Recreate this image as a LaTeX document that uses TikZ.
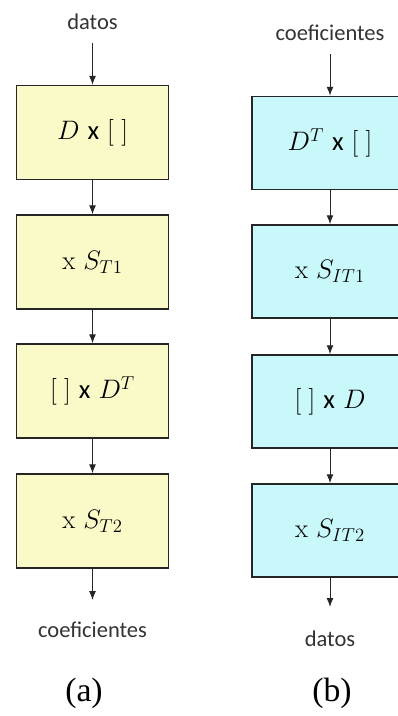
\RequirePackage{fix-cm}
\documentclass[tikz,border=0pt]{standalone}
\usepackage{fontspec}
\newfontfamily\lblfont{Carlito}
\newfontfamily\capfont{Liberation Serif}
\usetikzlibrary{arrows.meta}
\definecolor{boxyellow}{RGB}{250,250,200}
\definecolor{boxcyan}{RGB}{200,248,250}
\tikzset{
  opbox/.style={draw=black!85, line width=1pt, minimum width=3.8cm, minimum height=2.35cm,
    font=\fontsize{19}{22}\selectfont},
  ybox/.style={opbox, fill=boxyellow},
  cbox/.style={opbox, fill=boxcyan, minimum width=3.9cm, minimum height=2.33cm},
  flow/.style={-{Latex[length=2.2mm,width=1.7mm]}, line width=0.7pt, black!85},
  lbl/.style={font=\lblfont\fontsize{16}{18}\selectfont, text=black!80, inner sep=1pt},
  subcap/.style={font=\capfont\fontsize{24}{26}\selectfont}
}
\begin{document}
\begin{tikzpicture}[x=0.025cm, y=-0.025cm]
  \useasboundingbox (0,0) rectangle (398,716);
  \clip (0,0) rectangle (398,716);
  \fill[white] (0,0) rectangle (398,716);

  % --- (a) ---
  \node[lbl] (inA) at (92.5,22) {datos};
  \node[ybox] (a1) at (92.5,132.5) {$D$ {\lblfont x} $[\;]$};
  \node[ybox] (a2) at (92.5,262) {x $S_{T1}$};
  \node[ybox] (a3) at (92.5,391) {$[\;]$ {\lblfont x} $D^T$};
  \node[ybox] (a4) at (92.5,521) {x $S_{T2}$};
  \node[lbl] (outA) at (92.5,630) {coeficientes};
  \coordinate (endA) at (92.5,600);
  \draw[flow, shorten <=8pt] (inA) -- (a1);
  \draw[flow] (a1) -- (a2);
  \draw[flow] (a2) -- (a3);
  \draw[flow] (a3) -- (a4);
  \draw[flow] (a4) -- (endA);
  \node[subcap] (capA) at (84,693) {(a)};

  % --- (b) ---
  \node[lbl] (inB) at (330,33) {coeficientes};
  \node[cbox] (b1) at (330,143) {$D^T$ {\lblfont x} $[\;]$};
  \node[cbox] (b2) at (330,271.5) {x $S_{IT1}$};
  \node[cbox] (b3) at (330,401.5) {$[\;]$ {\lblfont x} $D$};
  \node[cbox] (b4) at (330,530.5) {x $S_{IT2}$};
  \node[lbl] (outB) at (330,639) {datos};
  \coordinate (endB) at (330,607);
  \draw[flow, shorten <=8pt] (inB) -- (b1);
  \draw[flow] (b1) -- (b2);
  \draw[flow] (b2) -- (b3);
  \draw[flow] (b3) -- (b4);
  \draw[flow] (b4) -- (endB);
  \node[subcap] (capB) at (332,693) {(b)};
\end{tikzpicture}
\end{document}
